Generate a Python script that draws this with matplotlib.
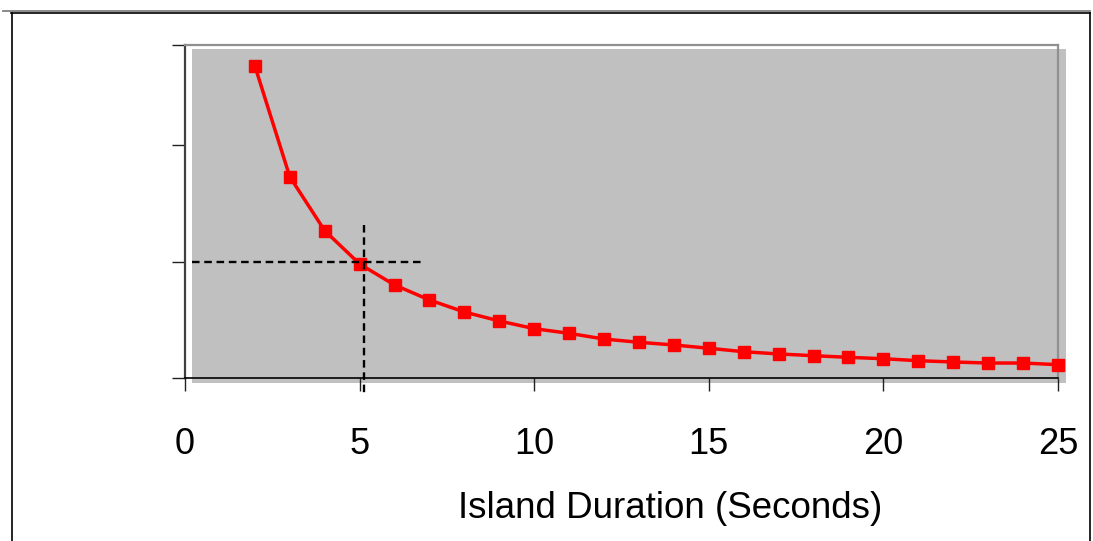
import matplotlib
matplotlib.use("Agg")
import matplotlib.pyplot as plt
from matplotlib.patches import Rectangle
from matplotlib.lines import Line2D

# island duration (s) and relative value
duration = [2, 3, 4, 5, 6, 7, 8, 9, 10, 11, 12, 13, 14, 15, 16, 17,
            18, 19, 20, 21, 22, 23, 24, 25]
value = [2.681, 1.730, 1.267, 0.981, 0.801, 0.672, 0.569, 0.492, 0.426,
         0.386, 0.337, 0.309, 0.286, 0.258, 0.228, 0.209, 0.194, 0.180,
         0.168, 0.151, 0.140, 0.131, 0.131, 0.117]
x_ticks = [0, 5, 10, 15, 20, 25]
y_ticks = [0, 1, 2, 2.86]
marker_x = 5.12
marker_y = 1.0

plt.rcParams['font.family'] = ['Liberation Sans', 'DejaVu Sans']

W, H = 1093, 541
fig = plt.figure(figsize=(W / 100, H / 100), dpi=100)
ax = fig.add_axes([185 / W, 1 - 378.3 / H, 873 / W, 333.3 / H])
ax.set_facecolor('white')

# offset grey plot area, as in the original spreadsheet render
ax.add_patch(Rectangle((0.008, -0.014), 1.001, 1.002, transform=ax.transAxes,
                       facecolor='#c0c0c0', edgecolor='none', zorder=0,
                       clip_on=False))

ax.plot(duration, value, color='#ff0000', lw=2.5, marker='s', ms=8,
        zorder=4, clip_on=False)

ax.plot([0.19, 6.81], [marker_y, marker_y], color='black', lw=1.7,
        dashes=(3.2, 2), zorder=5)
ax.plot([marker_x, marker_x], [1.316, -0.143], color='black', lw=1.7,
        dashes=(3.2, 2), zorder=5, clip_on=False)

ax.set_xlim(0, 25)
ax.set_ylim(0, 2.86)
ax.set_xticks(x_ticks)
ax.set_yticks(y_ticks)
ax.set_yticklabels([])
ax.tick_params(axis='x', direction='out', length=9, width=1, color='#202020',
               labelsize=26, pad=26)
ax.tick_params(axis='y', direction='out', length=9.5, width=1, color='#202020')

ax.spines['left'].set_color('#404040')
ax.spines['left'].set_linewidth(1.6)
ax.spines['bottom'].set_color('black')
ax.spines['bottom'].set_linewidth(1.2)
ax.spines['top'].set_color('#909090')
ax.spines['top'].set_linewidth(1.6)
ax.spines['right'].set_color('#909090')
ax.spines['right'].set_linewidth(1.6)
for s in ax.spines.values():
    s.set_zorder(3)

fig.text(670 / W, 1 - 518 / H, 'Island Duration (Seconds)', fontsize=26.5,
         ha='center', va='baseline')

# outer chart border
fig.add_artist(Line2D([3 / W, 1090 / W], [1 - 10.5 / H, 1 - 10.5 / H],
                      color='#808080', lw=1.3))
fig.add_artist(Line2D([11 / W, 1090 / W], [1 - 13 / H, 1 - 13 / H],
                      color='black', lw=1.2))
fig.add_artist(Line2D([11.5 / W, 11.5 / W], [0, 1 - 13 / H], color='black',
                      lw=1.2))
fig.add_artist(Line2D([1090 / W, 1090 / W], [0, 1 - 13 / H], color='black',
                      lw=1.2))

fig.savefig('out.png', dpi=100)
